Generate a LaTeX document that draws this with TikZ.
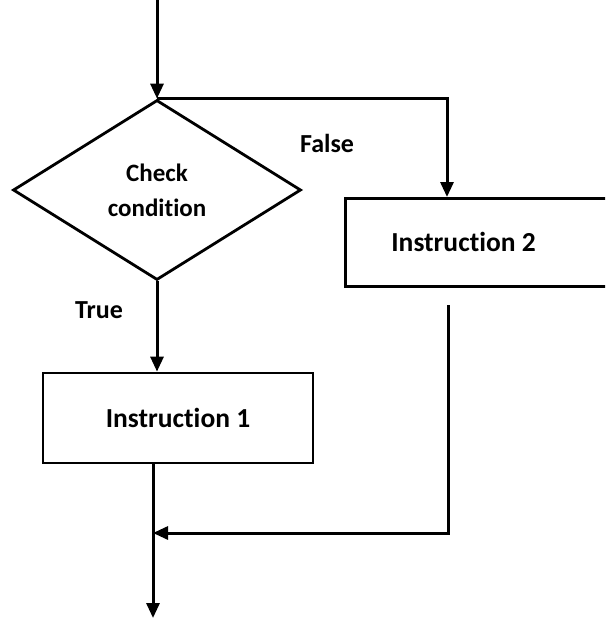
\documentclass[tikz,border=0pt]{standalone}
\usepackage{fontspec}
\setmainfont{Carlito}[Ligatures=NoCommon]
\usetikzlibrary{shapes.geometric,arrows.meta}
\begin{document}
\begin{tikzpicture}[x=1pt,y=-1pt,
  line/.style={line width=3pt},
  arr/.style={line, -{Triangle[length=15pt,width=13pt]}},
  shapeline/.style={draw, line width=2.8pt},
  box/.style={shapeline, rectangle, inner ysep=0pt, font=\bfseries\fontsize{27.5}{32}\selectfont},
  lbl/.style={font=\bfseries\fontsize{26}{30}\selectfont, inner sep=0pt}]
\useasboundingbox (0,0) rectangle (605,618);
\clip (0,0) rectangle (605,618);
\fill[white] (0,0) rectangle (605,618);

\node[shapeline, diamond, minimum width=288pt, minimum height=180pt, inner sep=0pt,
      align=center, font=\bfseries\fontsize{25}{35}\selectfont] (cond) at (157,190) {Check\\condition};

\node[box, minimum height=90pt, minimum width=270pt, inner xsep=0pt] (box1) at (178,418) {Instruction 1};

\node[box, anchor=north west, minimum height=88pt, text width=184pt, inner xsep=46pt, align=flush left] (box2) at (344,197) {Instruction 2};

\node[lbl] (tlbl) at (99,310) {True};
\node[lbl] (flbl) at (327,143) {False};

\coordinate (topin) at (157,0);
\coordinate (b2in) at (447,197);
\coordinate (r1) at (448,305);
\coordinate (join) at (153,533);
\coordinate (out) at (153,618);

\draw[arr] (topin) -- (cond.north);
\draw[arr] (cond.north) -| (b2in);
\draw[arr] (cond.south) -- (cond.south |- box1.north);
\draw[arr] (join |- box1.south) -- (out);
\draw[arr] (r1) |- (join);
\end{tikzpicture}
\end{document}
